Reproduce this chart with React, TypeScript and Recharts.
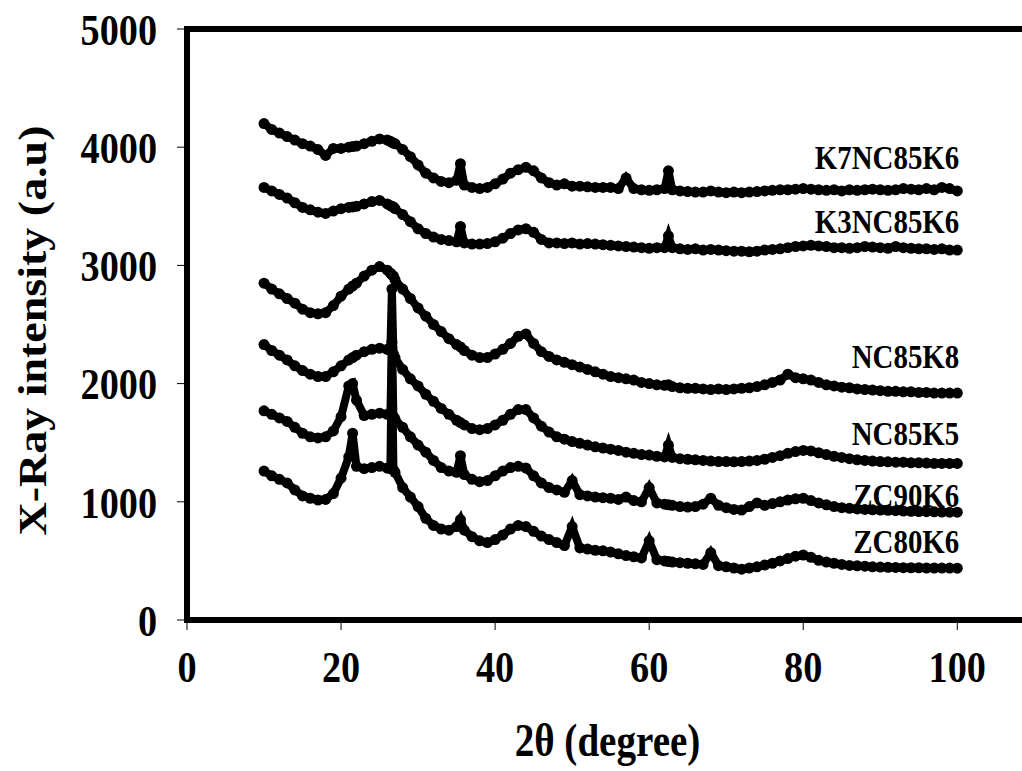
import { ComposedChart, Line, XAxis, YAxis, ReferenceLine, ReferenceDot } from "recharts"

// 2θ positions (deg): 1° steps plus a few extra angles where narrow peaks sit
const twoTheta = [
  10, 11, 12, 13, 14, 15, 16, 17, 18, 19, 20, 21,
  21.5,
  22, 23, 24, 25, 26,
  26.4, 26.6, 26.8,
  27, 28, 29, 30, 31, 32, 33, 34, 35,
  35.5,
  36, 37, 38, 39, 40, 41, 42, 43, 44, 45,
  46, 47, 48, 49, 50, 51, 52, 53, 54, 55,
  56, 57, 58, 59, 60, 61, 62,
  62.5,
  63, 64, 65, 66, 67, 68, 69, 70,
  71, 72, 73, 74, 75, 76, 77, 78, 79, 80,
  81, 82, 83, 84, 85, 86, 87, 88, 89, 90,
  91, 92, 93, 94, 95, 96, 97, 98, 99, 100,
]

const k7nc85k6 = [
  4200, 4150, 4120, 4090, 4060, 4030, 4010, 3980, 3930, 3990, 3990, 4000,
  4005,
  4010, 4030, 4050, 4070, 4060,
  4050, 4040, 4035,
  4030, 3980, 3920, 3850, 3780, 3740, 3710, 3700, 3720,
  3860,
  3680, 3660, 3650, 3660, 3690, 3730, 3780, 3810, 3830, 3800,
  3740, 3700, 3680, 3690, 3670, 3670, 3665, 3660, 3660, 3660,
  3650, 3740, 3650, 3640, 3635, 3640, 3650,
  3800,
  3640, 3630, 3625, 3620, 3620, 3630, 3620, 3615,
  3620, 3615, 3620, 3625, 3630, 3635, 3640, 3640, 3645, 3650,
  3645, 3640, 3635, 3640, 3630, 3640, 3635, 3640, 3645, 3640,
  3635, 3640, 3650, 3645, 3640, 3650, 3640, 3660, 3650, 3630,
]

const k3nc85k6 = [
  3660, 3630, 3600, 3570, 3530, 3490, 3470, 3450, 3440, 3460, 3480, 3490,
  3495,
  3500, 3520, 3540, 3550, 3520,
  3505, 3500, 3495,
  3480, 3430, 3370, 3310, 3270, 3240, 3220, 3210, 3200,
  3330,
  3190, 3180, 3180, 3185, 3200, 3230, 3270, 3300, 3310, 3280,
  3220, 3190, 3190, 3185, 3190, 3180, 3185, 3180, 3175, 3170,
  3165, 3160, 3155, 3150, 3145, 3150, 3150,
  3250,
  3150, 3140, 3135, 3140, 3130, 3135, 3130, 3125,
  3120, 3120, 3115, 3120, 3130, 3135, 3140, 3150, 3160, 3165,
  3170, 3165, 3160, 3150, 3150, 3145, 3150, 3160, 3155, 3150,
  3145, 3160, 3150, 3145, 3140, 3140, 3135, 3140, 3130, 3130,
]

const nc85k8 = [
  2850, 2800, 2760, 2720, 2680, 2630, 2600, 2590, 2600, 2660, 2740, 2800,
  2825,
  2850, 2910, 2960, 2990, 2960,
  2935, 2920, 2910,
  2880, 2800, 2720, 2640, 2570, 2500, 2440, 2380, 2330,
  2310,
  2280, 2240, 2220, 2220, 2250, 2290, 2340, 2400, 2420, 2340,
  2270, 2230, 2200, 2180, 2160, 2140, 2120, 2100, 2080, 2060,
  2050, 2040, 2030, 2010, 2000, 1990, 1985,
  1990,
  1975, 1965, 1960, 1960, 1955, 1950, 1955, 1950,
  1955, 1960, 1965, 1975, 1990, 2010, 2030, 2080, 2050, 2040,
  2030, 2010, 1990, 1980, 1970, 1965, 1955, 1950, 1945, 1940,
  1935, 1935, 1930, 1930, 1925, 1925, 1920, 1920, 1920, 1920,
]

const nc85k5 = [
  2330, 2280, 2240, 2200, 2150, 2110, 2080, 2060, 2060, 2100, 2150, 2200,
  2220,
  2240, 2270, 2290, 2300, 2290,
  2280, 2800, 2250,
  2220, 2120, 2040, 1980, 1910, 1850, 1790, 1740, 1690,
  1670,
  1650, 1620, 1610, 1620, 1650, 1690, 1740, 1780, 1780, 1710,
  1640, 1590, 1550, 1530, 1510, 1495, 1480, 1465, 1455, 1445,
  1435, 1420, 1410, 1400, 1395, 1385, 1380,
  1480,
  1375, 1365, 1360, 1355, 1350, 1345, 1340, 1340,
  1338, 1340, 1345, 1350, 1360, 1375, 1390, 1410, 1425, 1435,
  1430, 1415, 1400, 1385, 1375, 1365, 1355, 1350, 1345, 1340,
  1338, 1335, 1335, 1330, 1330, 1328, 1325, 1325, 1325, 1325,
]

const zc90k6 = [
  1770, 1740, 1710, 1680, 1630, 1580, 1550, 1540, 1550, 1600, 1720, 1980,
  2000,
  1860, 1730, 1740, 1750, 1740,
  1735, 2350, 1720,
  1700, 1630, 1550, 1480, 1420, 1350, 1290, 1260, 1250,
  1390,
  1230, 1190, 1170, 1180, 1220, 1260, 1290, 1300, 1285, 1220,
  1160, 1120, 1100, 1080, 1180, 1060, 1050, 1040, 1035, 1030,
  1020, 1040, 1010, 1000, 1120, 990, 980,
  975,
  970, 960, 955, 960, 980, 1030, 970, 950,
  935, 930, 960, 990, 970, 985, 1000, 1015, 1025, 1030,
  1010, 990, 975, 960, 950, 945, 940, 935, 932, 930,
  928, 925, 922, 920, 918, 916, 915, 913, 912, 912,
]

const zc80k6 = [
  1260, 1220, 1190, 1160, 1100, 1050, 1030, 1015, 1020, 1070, 1200, 1380,
  1580,
  1300, 1280, 1290, 1300, 1285,
  1280, 2300, 1270,
  1250, 1120, 1040, 960, 860, 800, 770, 760, 790,
  850,
  760, 705, 670, 655, 680, 720, 770, 800, 790, 750,
  710, 680, 655, 630, 790, 610, 600, 590, 585, 575,
  560, 545, 535, 525, 670, 510, 500,
  495,
  490, 485, 480, 475, 470, 570, 460, 450,
  440, 430, 440, 450, 465, 480, 500, 520, 540, 550,
  530, 505, 490, 480, 470, 462, 458, 455, 450, 448,
  446, 445, 443, 442, 441, 440, 440, 439, 439, 438,
]

const sampleNames = ["K7NC85K6", "K3NC85K6", "NC85K8", "NC85K5", "ZC90K6", "ZC80K6"]
// intensity at which each sample name sits (text baseline, right end at 100°)
const nameLevels = [3819, 3278, 2129, 1479, 955, 566]

const xTicks = [0, 20, 40, 60, 80, 100]
const yTicks = [0, 1000, 2000, 3000, 4000, 5000]

const allSeries = [k7nc85k6, k3nc85k6, nc85k8, nc85k5, zc90k6, zc80k6]
const keys = ["s1", "s2", "s3", "s4", "s5", "s6"]

const data = twoTheta.map((t, i) => {
  const row: any = { t }
  allSeries.forEach((s, j) => {
    row[keys[j]] = s[i]
  })
  return row
})

const FONT = '"Liberation Serif", "Times New Roman", serif'
const SQUASH = 0.85

function SText({ x, y, anchor, dy, rotate, size, children }: any) {
  const tf = rotate
    ? `translate(${x},${y}) scale(${SQUASH},1) rotate(-90)`
    : `translate(${x},${y}) scale(${SQUASH},1)`
  return (
    <text
      x={0}
      y={0}
      dy={dy}
      transform={tf}
      textAnchor={anchor}
      dominantBaseline={rotate ? "central" : undefined}
      fontFamily={FONT}
      fontWeight="bold"
      fontSize={size}
      fill="#000"
    >
      {children}
    </text>
  )
}

const YTick = (props: any) => (
  <SText x={props.x} y={props.y} anchor="end" dy="0.35em" size={45}>
    {props.payload.value}
  </SText>
)

const XTick = (props: any) => (
  <SText x={props.x} y={props.y} anchor="middle" dy="0.66em" size={45}>
    {props.payload.value}
  </SText>
)

const XTitle = (props: any) => {
  const vb = props.viewBox || { x: 187, y: 620, width: 835, height: 151 }
  return (
    <SText x={vb.x + vb.width / 2 + 3} y={756} anchor="middle" size={46}>
      2θ (degree)
    </SText>
  )
}

const YTitle = (props: any) => {
  const vb = props.viewBox || { x: 0, y: 29, width: 187, height: 591 }
  return (
    <SText x={33} y={vb.y + vb.height / 2 + 6} anchor="middle" rotate size={46}>
      X-Ray intensity (a.u)
    </SText>
  )
}

export default function App() {
  return (
    <div style={{ position: "absolute", left: 0, top: 0, width: 1022, height: 771, background: "#fff" }}>
      <ComposedChart width={1022} height={771} data={data} margin={{ top: 29, right: 0, bottom: 0, left: 0 }}>
        <XAxis
          dataKey="t"
          type="number"
          domain={[0, 108.4]}
          ticks={xTicks}
          interval={0}
          allowDataOverflow
          height={151}
          tickSize={10}
          tickMargin={22}
          tick={XTick}
          tickLine={{ stroke: "#000", strokeWidth: 1 }}
          axisLine={{ stroke: "#000", strokeWidth: 6, strokeLinecap: "square" }}
          label={<XTitle />}
        />
        <YAxis
          type="number"
          domain={[0, 5000]}
          ticks={yTicks}
          interval={0}
          width={187}
          tickSize={10}
          tickMargin={20}
          tick={YTick}
          tickLine={{ stroke: "#000", strokeWidth: 1 }}
          axisLine={{ stroke: "#000", strokeWidth: 6, strokeLinecap: "square" }}
          label={<YTitle />}
        />
        <ReferenceLine y={5000} stroke="#000" strokeWidth={6} />
        {keys.map((k) => (
          <Line
            key={k}
            type="linear"
            dataKey={k}
            stroke="#000"
            strokeWidth={8}
            dot={{ r: 5.5, fill: "#000", stroke: "#000", strokeWidth: 0 }}
            activeDot={false}
            isAnimationActive={false}
          />
        ))}
        {sampleNames.map((name, i) => (
          <ReferenceDot
            key={name}
            x={100}
            y={nameLevels[i]}
            r={0}
            shape={(p: any) => (
              <SText x={p.cx + 2} y={p.cy} anchor="end" size={34}>
                {name}
              </SText>
            )}
          />
        ))}
      </ComposedChart>
    </div>
  )
}
